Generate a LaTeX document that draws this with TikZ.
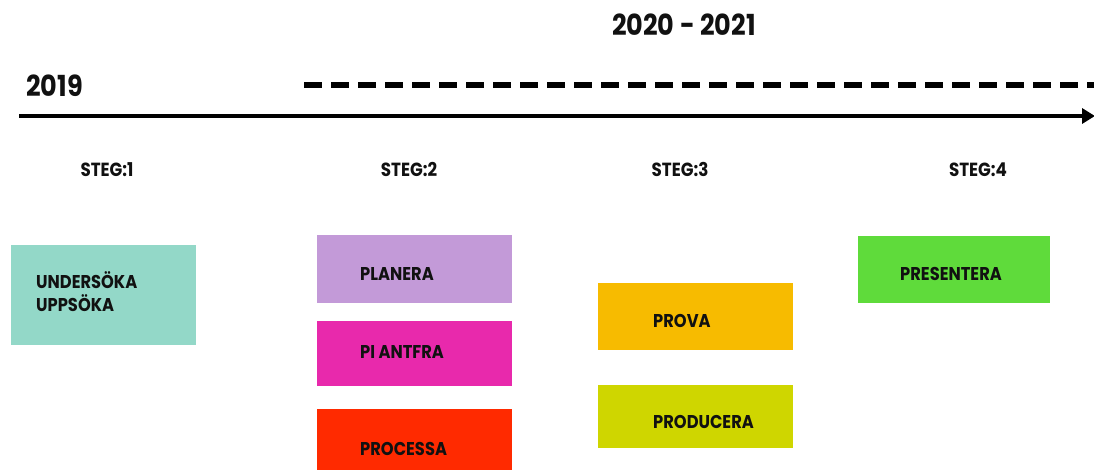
\documentclass[tikz,border=0pt]{standalone}
\usepackage{fontspec}
\setmainfont{Poppins}
\newfontfamily\gfont[FakeStretch=0.88]{Poppins}
\usetikzlibrary{arrows.meta,calc}
\definecolor{cteal}{HTML}{93D8C8}
\definecolor{clilac}{HTML}{C39AD8}
\definecolor{cmagenta}{HTML}{E829AC}
\definecolor{cred}{HTML}{FF2A00}
\definecolor{corange}{HTML}{F7BB00}
\definecolor{colive}{HTML}{CFD600}
\definecolor{cgreen}{HTML}{5FDB3B}
\definecolor{ctext}{HTML}{111111}
\begin{document}
\begin{tikzpicture}[x=1pt,y=-1pt,
  box/.style={rectangle, draw=none, inner sep=0pt, anchor=north west},
  lbl/.style={anchor=base west, inner sep=0pt, text=ctext, font=\gfont\fontsize{18.5}{20}\selectfont\bfseries},
  steglbl/.style={anchor=base, inner sep=0pt, text=ctext, font=\gfont\fontsize{19}{21}\selectfont\bfseries},
  yearlbl/.style={anchor=base west, inner sep=0pt, text=ctext, font=\gfont\fontsize{29}{32}\selectfont\bfseries}]
\useasboundingbox (0,0) rectangle (1094,470);
\fill[white] (0,0) rectangle (1094,470);

% years
\node[yearlbl] (y2019) at (26,97) {2019};
\node[yearlbl] (y2020) at (612,36) {2020 - 2021};

% timeline
\coordinate (tlstart) at (19,116);
\coordinate (tlend) at (1095,116);
\draw[line width=4pt, -{Triangle[length=13pt,width=15pt]}] (tlstart) -- (tlend);
\coordinate (dstart) at (304,85);
\coordinate (dend) at (1094,85);
\draw[line width=5.5pt, dash pattern=on 17.5pt off 9.5pt] (dstart) -- (dend);

% steps
\node[steglbl] (s1) at (107,177) {STEG:1};
\node[steglbl] (s2) at (409,177) {STEG:2};
\node[steglbl] (s3) at (680,177) {STEG:3};
\node[steglbl] (s4) at (978,177) {STEG:4};

% boxes
\node[box, fill=cteal, minimum width=185.5pt, minimum height=100pt] (b1) at (10.5,245) {};
\node[box, fill=clilac, minimum width=195pt, minimum height=68pt] (b2) at (317,235) {};
\node[box, fill=cmagenta, minimum width=195pt, minimum height=65pt] (b3) at (317,321) {};
\node[box, fill=cred, minimum width=195pt, minimum height=66pt] (b4) at (317,409) {};
\node[box, fill=corange, minimum width=195pt, minimum height=67pt] (b5) at (598,283) {};
\node[box, fill=colive, minimum width=195pt, minimum height=63pt] (b6) at (598,385) {};
\node[box, fill=cgreen, minimum width=192pt, minimum height=67pt] (b7) at (858,236) {};

% box texts
\node[lbl] (t1a) at (36,288) {UNDERSÖKA};
\node[lbl] (t1b) at (36,311) {UPPSÖKA};
\node[lbl] (t2) at (360,280) {PLANERA};
\node[lbl] (t3) at (360,358) {PI ANTFRA};
\node[lbl] (t4) at (360,455) {PROCESSA};
\node[lbl] (t5) at (653,327) {PROVA};
\node[lbl] (t6) at (653,428) {PRODUCERA};
\node[lbl] (t7) at (900,280) {PRESENTERA};
\end{tikzpicture}
\end{document}
